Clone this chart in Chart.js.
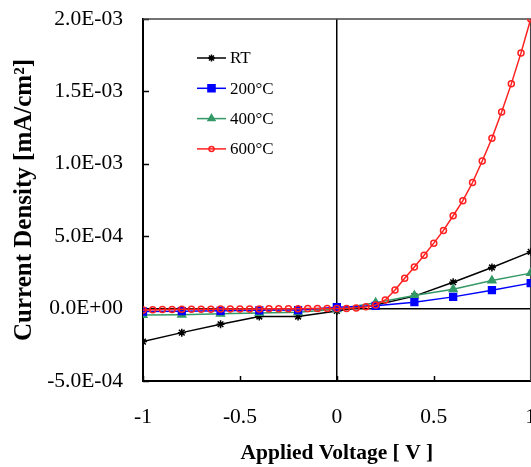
<!DOCTYPE html>
<html><head><meta charset="utf-8">
<script src="https://cdn.jsdelivr.net/npm/chart.js@4.4.1/dist/chart.umd.min.js"></script>
<style>
html,body{margin:0;padding:0;overflow:hidden;background:#fff;width:531px;height:467px}
#wrap{width:537px;height:467px;position:relative}
</style>
</head><body>
<div id="wrap"><canvas id="c" width="537" height="467"></canvas></div>
<script>
// ---- data (current density in mA/cm^2) ----
const voltsCoarse = [-1, -0.8, -0.6, -0.4, -0.2, 0, 0.2, 0.4, 0.6, 0.8, 1];
const rtValues   = [-2.28e-4, -1.66e-4, -1.08e-4, -0.55e-4, -0.55e-4, -0.16e-4, 0.25e-4, 0.86e-4, 1.82e-4, 2.84e-4, 3.92e-4];
const c200Values = [-0.20e-4, -0.18e-4, -0.15e-4, -0.12e-4, -0.10e-4, 0.10e-4, 0.19e-4, 0.44e-4, 0.81e-4, 1.27e-4, 1.76e-4];
const c400Values = [-0.45e-4, -0.42e-4, -0.36e-4, -0.30e-4, -0.25e-4, -0.05e-4, 0.41e-4, 0.90e-4, 1.34e-4, 1.94e-4, 2.45e-4];
const voltsFine = [-1, -0.95, -0.9, -0.85, -0.8, -0.75, -0.7, -0.65, -0.6, -0.55, -0.5, -0.45, -0.4, -0.35, -0.3, -0.25, -0.2, -0.15, -0.1, -0.05,
  0, 0.05, 0.1, 0.15, 0.2, 0.25, 0.3, 0.35, 0.4, 0.45, 0.5, 0.55, 0.6, 0.65, 0.7, 0.75, 0.8, 0.85, 0.9, 0.95, 1];
const c600Values = [-0.09e-4, -0.08e-4, -0.07e-4, -0.06e-4, -0.05e-4, -0.05e-4, -0.04e-4, -0.04e-4, -0.03e-4, -0.03e-4, -0.02e-4, -0.02e-4, -0.02e-4, -0.01e-4, -0.01e-4, -0.01e-4, -0.01e-4, 0, 0, 0,
  0, 0.01e-4, 0.05e-4, 0.12e-4, 0.25e-4, 0.60e-4, 1.29e-4, 2.10e-4, 2.88e-4, 3.69e-4, 4.52e-4, 5.40e-4, 6.41e-4, 7.45e-4, 8.71e-4, 10.19e-4, 11.76e-4, 13.58e-4, 15.52e-4, 17.66e-4, 20.0e-4];
const seriesLabels = ['RT', '200°C', '400°C', '600°C'];
const xTickValues = [-1, -0.5, 0, 0.5, 1];
const yTickValues = [-5e-4, 0, 5e-4, 10e-4, 15e-4, 20e-4];

const pts = (xs, ys) => xs.map((x, i) => ({x: x, y: ys[i]}));

function fmtE(v) {
  if (Math.abs(v) < 1e-12) return '0.0E+00';
  let e = Math.floor(Math.log10(Math.abs(v)) + 1e-9);
  let ms = (v / Math.pow(10, e)).toFixed(1);
  if (Math.abs(parseFloat(ms)) >= 10) { e += 1; ms = (v / Math.pow(10, e)).toFixed(1); }
  return ms + 'E' + (e < 0 ? '-' : '+') + String(Math.abs(e)).padStart(2, '0');
}

const SERIF = '"Liberation Serif", "Times New Roman", serif';
const legendRadius = [3.5, 5, 4, 2.5];

const tickPlugin = {
  id: 'innerTicks',
  beforeDatasetsDraw(chart) {
    const c = chart.ctx, a = chart.chartArea;
    const xs = chart.scales.x, ys = chart.scales.y;
    c.save();
    c.strokeStyle = '#000';
    c.lineWidth = 1.5;
    c.beginPath();
    yTickValues.forEach(v => {
      const p = Math.round(ys.getPixelForValue(v)) + 0.5;
      c.moveTo(a.left, p); c.lineTo(a.left + 6, p);
    });
    xTickValues.forEach(v => {
      const p = Math.round(xs.getPixelForValue(v)) + 0.5;
      c.moveTo(p, a.bottom); c.lineTo(p, a.bottom - 5);
    });
    c.stroke();
    c.strokeStyle = '#444';
    c.lineWidth = 1.5;
    c.beginPath();
    c.moveTo(a.left, a.top); c.lineTo(a.right, a.top); c.lineTo(a.right, a.bottom);
    c.stroke();
    c.restore();
  }
};

const legendPlugin = {
  id: 'innerLegend',
  afterDraw(chart) {
    const c = chart.ctx, a = chart.chartArea;
    chart.data.datasets.forEach((ds, i) => {
      const y = a.top + 39 + i * 30.3;
      const x0 = a.left + 54;
      c.save();
      c.strokeStyle = ds.borderColor;
      c.lineWidth = 1.5;
      c.beginPath(); c.moveTo(x0, y); c.lineTo(x0 + 29, y); c.stroke();
      c.fillStyle = ds.pointBackgroundColor;
      c.strokeStyle = ds.pointBorderColor;
      c.lineWidth = ds.pointBorderWidth;
      Chart.helpers.drawPoint(c, {pointStyle: ds.pointStyle, radius: legendRadius[i], rotation: 0, borderWidth: ds.pointBorderWidth}, x0 + 14.5, y);
      c.fillStyle = '#000';
      c.font = '17px ' + SERIF;
      c.textBaseline = 'middle';
      c.textAlign = 'left';
      c.fillText(ds.label, x0 + 33, y + 1);
      c.restore();
    });
  }
};

const mk = (label, data, color, style, radius, bg, order) => ({
  label: label, data: data, showLine: true,
  borderColor: color, borderWidth: 1.5,
  pointStyle: style, pointRadius: radius, pointHoverRadius: radius,
  pointBackgroundColor: bg, pointBorderColor: color, pointBorderWidth: 1.5,
  order: order, tension: 0
});

new Chart(document.getElementById('c'), {
  type: 'scatter',
  data: {
    datasets: [
      mk(seriesLabels[0], pts(voltsCoarse, rtValues), '#000000', 'star', 4, '#000000', 3),
      mk(seriesLabels[1], pts(voltsCoarse, c200Values), '#0000ff', 'rect', 4.8, '#0000ff', 1),
      mk(seriesLabels[2], pts(voltsCoarse, c400Values), '#339966', 'triangle', 4.5, '#339966', 2),
      mk(seriesLabels[3], pts(voltsFine, c600Values), '#ff2020', 'circle', 3, 'rgba(0,0,0,0)', 0)
    ]
  },
  options: {
    responsive: false, animation: false, devicePixelRatio: 1,
    layout: {padding: {top: 19, left: 0, right: 0, bottom: 0}},
    plugins: {legend: {display: false}, tooltip: {enabled: false}},
    scales: {
      x: {
        type: 'linear', min: -1, max: 1,
        afterBuildTicks: s => { s.ticks = xTickValues.map(v => ({value: v})); },
        ticks: {color: '#000', font: {family: SERIF, size: 21.5}, padding: 0, maxRotation: 0,
          callback: v => String(v)},
        grid: {drawTicks: true, tickLength: 23, tickColor: 'rgba(0,0,0,0)',
          color: c => (c.tick && c.tick.value === 0 ? '#000' : 'rgba(0,0,0,0)'), lineWidth: 1.5},
        border: {color: '#000', width: 2},
        title: {display: true, text: 'Applied Voltage [ V ]', color: '#000',
          font: {family: SERIF, size: 21.5, weight: 'bold'}, padding: {top: 0, bottom: 1}},
        afterFit: s => { s.height = 86; }
      },
      y: {
        type: 'linear', min: -5e-4, max: 2e-3,
        afterBuildTicks: s => { s.ticks = yTickValues.map(v => ({value: v})); },
        ticks: {color: '#000', font: {family: SERIF, size: 21.5}, padding: 0, callback: v => fmtE(v)},
        grid: {drawTicks: true, tickLength: 20, tickColor: 'rgba(0,0,0,0)',
          color: c => (c.tick && Math.abs(c.tick.value) < 1e-12 ? '#000' : 'rgba(0,0,0,0)'), lineWidth: 1.5},
        border: {color: '#000', width: 2},
        title: {display: true, text: 'Current Density [mA/cm²]', color: '#000',
          font: {family: SERIF, size: 25, weight: 'bold'}, padding: {top: 10, bottom: 0}},
        afterFit: s => { s.width = 143; }
      }
    }
  },
  plugins: [tickPlugin, legendPlugin]
});
</script>
</body></html>
